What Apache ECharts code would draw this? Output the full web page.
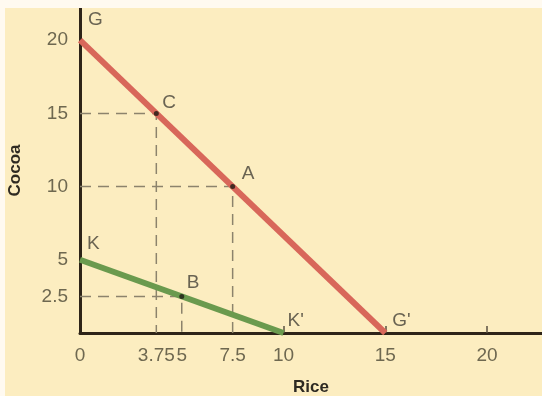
<!DOCTYPE html>
<html>
<head>
<meta charset="utf-8">
<script src="https://cdn.jsdelivr.net/npm/echarts@6/dist/echarts.min.js"></script>
<style>
    html, body { margin: 0; padding: 0; background: #fffaf0; }
    #chart { position: absolute; left: 5px; top: 8px; width: 537px; height: 388px; background: #fcedc0; }
</style>
</head>
<body>
<div id="chart"></div>
<script>
    // production possibilities: rice vs cocoa
    var xTicks = [0, 3.75, 5, 7.5, 10, 15, 20];
    var yTicks = [2.5, 5, 10, 15, 20];
    var lineGG = [[0, 20], [15, 0]];
    var lineKK = [[0, 5], [10, 0]];
    var dots = [[3.75, 15], [7.5, 10], [5, 2.5]];
    var dashC = [[0, 15], [3.75, 15], [3.75, 0]];
    var dashA = [[0, 10], [7.5, 10], [7.5, 0]];
    var dashB = [[0, 2.5], [5, 2.5], [5, 0]];
    var pointNames = ['G', 'C', 'A', 'K', 'B', "K'", "G'"];
    var pointPos = [[0, 20], [3.75, 15], [7.5, 10], [0, 5], [5, 2.5], [10, 0], [15, 0]];
    var labelOffsets = [[3, -20], [1, -11], [4, -13], [2, -16], [0, -14], [-1, -12], [2, -12]];

    var chart = echarts.init(document.getElementById('chart'));

    function dashed(data) {
        return {
            type: 'line',
            data: data,
            symbol: 'none',
            silent: true,
            lineStyle: { color: '#8c836c', width: 1.5, type: [11, 7] },
            z: 1
        };
    }

    var option = {
        animation: false,
        grid: { left: 75, right: 0, top: 0, bottom: 63, outerBoundsMode: 'none' },
        xAxis: {
            type: 'value',
            min: 0,
            max: 22.7,
            name: 'Rice',
            nameLocation: 'middle',
            nameGap: 46,
            nameTextStyle: { color: '#2e2a22', fontSize: 17, fontWeight: 'bold', fontFamily: 'Liberation Sans Narrow, Liberation Sans' },
            splitLine: { show: false },
            axisLine: { lineStyle: { color: '#2e2418', width: 3 } },
            axisTick: { show: true, inside: true, length: 7, customValues: [10, 15, 20], lineStyle: { color: '#5a5040', width: 1.5 } },
            axisLabel: { customValues: xTicks, color: '#6e6850', fontSize: 19, margin: 13, fontFamily: 'Liberation Sans' }
        },
        yAxis: {
            type: 'value',
            min: 0,
            max: 22.2,
            name: 'Cocoa',
            nameLocation: 'middle',
            nameGap: 56,
            nameRotate: 90,
            nameTextStyle: { color: '#2e2a22', fontSize: 17, fontWeight: 'bold', fontFamily: 'Liberation Sans Narrow, Liberation Sans' },
            splitLine: { show: false },
            axisLine: { show: true, lineStyle: { color: '#2e2418', width: 3 } },
            axisTick: { show: false },
            axisLabel: { customValues: yTicks, color: '#6e6850', fontSize: 19, margin: 12, fontFamily: 'Liberation Sans' }
        },
        series: [
            dashed(dashC),
            dashed(dashA),
            dashed(dashB),
            {
                type: 'line',
                data: lineGG,
                symbol: 'none',
                lineStyle: { color: '#d8675a', width: 6 },
                z: 3
            },
            {
                type: 'line',
                data: lineKK,
                symbol: 'none',
                lineStyle: { color: '#6a9a4e', width: 6 },
                z: 3
            },
            {
                type: 'scatter',
                data: dots,
                symbolSize: 5,
                itemStyle: { color: '#1e1a14' },
                z: 5
            },
            {
                type: 'scatter',
                symbolSize: 0,
                silent: true,
                data: pointPos.map(function (p, i) {
                    return {
                        value: p,
                        label: {
                            show: true,
                            formatter: pointNames[i],
                            position: 'right',
                            offset: labelOffsets[i],
                            color: '#444036',
                            fontSize: 19,
                            fontFamily: 'Liberation Sans'
                        }
                    };
                }),
                z: 6
            }
        ]
    };
    chart.setOption(option);
</script>
</body>
</html>
